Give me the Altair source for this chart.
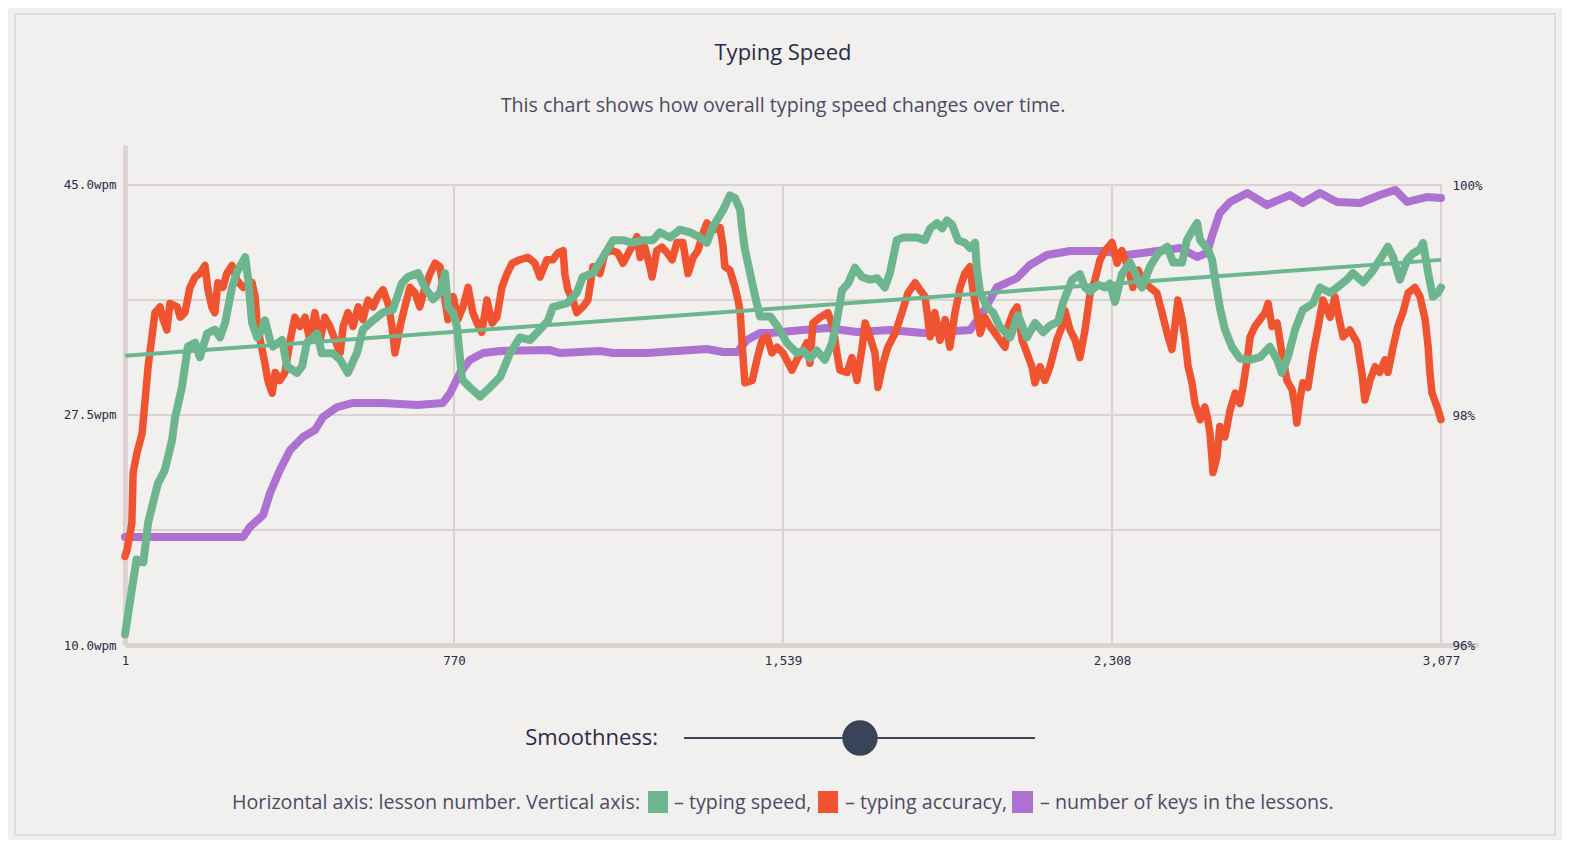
import altair as alt
import pandas as pd

# ---------------- data ----------------
speed_lesson = [1, 13, 28, 44, 55, 78, 94, 111, 118, 134, 148, 165, 176, 193, 211, 223, 235, 251, 263, 282,
                289, 298, 310, 321, 328, 340, 347, 368, 380, 403, 415, 426, 450, 461, 487, 504, 522, 543, 557, 581,
                604, 627, 648, 662, 686, 702, 721, 737, 749, 756, 768, 777, 789, 807, 831, 854, 878, 901, 924, 948,
                971, 990, 1001, 1034, 1057, 1071, 1095, 1118, 1142, 1165, 1188, 1212, 1235, 1251, 1275, 1298, 1322,
                1345, 1361, 1375, 1399, 1415, 1427, 1439, 1443, 1450, 1462, 1474, 1485, 1509, 1527, 1548, 1572,
                1586, 1602, 1618, 1637, 1654, 1665, 1677, 1691, 1707, 1724, 1742, 1759, 1777, 1789, 1805, 1820,
                1852, 1871, 1883, 1899, 1911, 1922, 1934, 1948, 1964, 1976, 1988, 1992, 2000, 2016, 2030, 2046,
                2070, 2088, 2109, 2128, 2147, 2163, 2182, 2194, 2215, 2233, 2245, 2257, 2275, 2292, 2303, 2315,
                2331, 2350, 2366, 2378, 2397, 2416, 2437, 2451, 2472, 2483, 2497, 2507, 2514, 2532, 2542, 2549,
                2560, 2572, 2588, 2607, 2631, 2654, 2677, 2694, 2705, 2719, 2736, 2754, 2778, 2794, 2818, 2834,
                2857, 2871, 2895, 2916, 2930, 2953, 2965, 2981, 2998, 3012, 3028, 3035, 3047, 3058, 3070, 3077]
speed_wpm = [10.8, 13.4, 16.5, 16.3, 19.3, 22.3, 23.3, 25.6, 27.3, 29.6, 32.7, 33.0, 31.9, 33.7, 34.0, 33.4, 34.5,
             37.2, 38.4, 39.5, 37.8, 34.5, 33.4, 34.0, 34.7, 33.2, 32.7, 33.2, 31.2, 30.7, 31.2, 33.0, 33.7, 32.2,
             32.2, 31.7, 30.7, 32.2, 34.0, 34.7, 35.3, 35.5, 37.5, 38.0, 38.3, 37.2, 36.3, 36.8, 38.3, 35.7, 35.3,
             34.2, 30.2, 29.6, 28.9, 29.6, 30.4, 32.2, 33.4, 33.2, 34.0, 34.7, 35.7, 36.0, 36.8, 38.0, 38.3, 39.5,
             40.8, 40.8, 40.6, 40.8, 40.8, 41.4, 41.0, 41.6, 41.4, 41.0, 40.6, 41.8, 43.1, 44.2, 44.0, 43.1, 41.8,
             40.1, 38.3, 36.5, 35.0, 35.0, 34.2, 33.0, 32.2, 32.4, 31.8, 32.4, 31.7, 33.0, 34.7, 37.0, 37.5, 38.7,
             38.0, 37.8, 37.9, 37.2, 38.3, 40.8, 41.0, 41.0, 40.8, 41.7, 42.1, 41.7, 42.3, 42.0, 40.8, 40.6, 40.2,
             40.6, 38.7, 36.8, 35.7, 35.3, 34.2, 33.4, 35.1, 33.4, 34.5, 33.8, 34.3, 34.6, 36.1, 37.8, 38.2, 37.2,
             36.9, 37.4, 37.2, 37.5, 36.1, 38.2, 39.1, 38.0, 37.2, 38.8, 39.8, 40.3, 39.1, 39.1, 40.8, 41.6, 42.1,
             40.8, 40.1, 39.3, 37.8, 35.7, 34.0, 32.7, 31.8, 31.7, 31.9, 32.7, 31.7, 30.7, 31.9, 34.0, 35.5, 36.0,
             37.2, 36.8, 37.2, 37.8, 38.3, 37.6, 38.4, 39.1, 40.3, 39.5, 37.8, 39.3, 39.8, 40.1, 40.6, 38.3, 36.5,
             36.8, 37.2]

trend_lesson = [1, 3077]
trend_wpm = [32.0, 39.3]

accuracy_lesson = [1, 6, 13, 17, 20, 29, 41, 48, 55, 64, 71, 83, 90, 99, 106, 123, 130, 141, 153, 165, 176, 188,
                   195, 204, 211, 218, 230, 239, 251, 263, 277, 298, 305, 310, 317, 328, 335, 345, 352, 363, 375,
                   387, 398, 410, 422, 433, 445, 457, 468, 480, 492, 504, 511, 522, 534, 546, 557, 569, 581, 592,
                   604, 616, 625, 632, 644, 655, 667, 679, 690, 702, 714, 726, 737, 749, 756, 768, 779, 791, 803,
                   814, 824, 835, 847, 859, 870, 882, 894, 906, 924, 943, 959, 971, 987, 1001, 1013, 1025, 1029,
                   1036, 1048, 1057, 1071, 1083, 1095, 1111, 1123, 1139, 1153, 1165, 1181, 1198, 1205, 1216, 1228,
                   1233, 1244, 1256, 1268, 1280, 1291, 1305, 1317, 1329, 1340, 1352, 1361, 1375, 1392, 1399, 1403,
                   1415, 1427, 1434, 1439, 1443, 1446, 1450, 1467, 1478, 1490, 1502, 1513, 1525, 1539, 1560, 1574,
                   1583, 1595, 1602, 1609, 1626, 1644, 1656, 1665, 1672, 1689, 1700, 1712, 1724, 1731, 1742, 1754,
                   1761, 1773, 1784, 1801, 1817, 1831, 1848, 1859, 1871, 1883, 1894, 1906, 1918, 1929, 1941, 1953,
                   1964, 1976, 1983, 1992, 2000, 2011, 2023, 2035, 2046, 2058, 2065, 2077, 2086, 2098, 2109, 2121,
                   2128, 2140, 2151, 2163, 2179, 2191, 2198, 2210, 2222, 2233, 2245, 2257, 2268, 2280, 2292, 2308,
                   2320, 2331, 2345, 2357, 2369, 2380, 2397, 2413, 2425, 2437, 2448, 2455, 2462, 2472, 2479, 2486,
                   2495, 2502, 2514, 2525, 2532, 2537, 2542, 2544, 2553, 2560, 2572, 2584, 2596, 2607, 2614, 2624,
                   2631, 2642, 2654, 2666, 2673, 2682, 2694, 2705, 2717, 2729, 2736, 2740, 2747, 2754, 2766, 2778,
                   2790, 2801, 2818, 2829, 2836, 2848, 2864, 2881, 2892, 2899, 2911, 2923, 2934, 2946, 2953, 2965,
                   2976, 2988, 3000, 3016, 3028, 3040, 3047, 3051, 3056, 3068, 3077]
accuracy_pct = [96.77, 96.83, 96.97, 97.06, 97.50, 97.67, 97.84, 98.13, 98.42, 98.68, 98.89, 98.94, 98.83, 98.74,
                98.97, 98.94, 98.85, 98.89, 99.11, 99.20, 99.23, 99.30, 99.09, 98.94, 98.89, 99.15, 99.11, 99.23,
                99.30, 99.17, 99.11, 99.15, 99.03, 98.80, 98.65, 98.45, 98.30, 98.19, 98.37, 98.30, 98.37, 98.65,
                98.85, 98.77, 98.85, 98.65, 98.89, 98.65, 98.85, 98.77, 98.65, 98.54, 98.77, 98.89, 98.77, 98.94,
                98.83, 99.00, 98.94, 99.03, 99.09, 98.97, 98.77, 98.54, 98.77, 98.94, 99.11, 99.06, 98.94, 99.11,
                99.23, 99.32, 99.29, 99.00, 98.83, 99.03, 98.83, 98.94, 99.11, 98.89, 98.80, 98.72, 99.00, 98.80,
                98.85, 99.11, 99.23, 99.32, 99.35, 99.37, 99.32, 99.20, 99.35, 99.35, 99.41, 99.43, 99.23, 99.09,
                99.00, 98.89, 98.94, 99.00, 99.29, 99.23, 99.41, 99.43, 99.41, 99.32, 99.43, 99.55, 99.37, 99.46,
                99.29, 99.20, 99.43, 99.46, 99.41, 99.35, 99.50, 99.50, 99.23, 99.37, 99.43, 99.58, 99.67, 99.61,
                99.63, 99.46, 99.29, 99.26, 99.11, 99.00, 98.89, 98.65, 98.48, 98.28, 98.30, 98.48, 98.65, 98.68,
                98.54, 98.59, 98.54, 98.39, 98.50, 98.54, 98.63, 98.45, 98.80, 98.85, 98.89, 98.77, 98.54, 98.39,
                98.37, 98.50, 98.30, 98.59, 98.80, 98.68, 98.54, 98.24, 98.45, 98.59, 98.71, 98.89, 99.06, 99.15,
                99.09, 99.03, 98.68, 98.89, 98.65, 98.83, 98.59, 98.89, 99.11, 99.23, 99.29, 99.09, 98.89, 98.71,
                98.85, 98.77, 98.71, 98.65, 98.59, 98.77, 98.89, 98.94, 98.65, 98.54, 98.42, 98.28, 98.42, 98.30,
                98.42, 98.65, 98.77, 98.91, 98.74, 98.65, 98.50, 98.74, 99.06, 99.17, 99.35, 99.43, 99.50, 99.32,
                99.43, 99.29, 99.11, 99.26, 99.17, 99.11, 99.06, 98.89, 98.71, 98.57, 98.77, 99.00, 98.83, 98.65,
                98.42, 98.28, 98.10, 97.96, 98.07, 97.96, 97.84, 97.61, 97.50, 97.63, 97.90, 97.81, 98.04, 98.19,
                98.10, 98.24, 98.48, 98.68, 98.77, 98.83, 98.89, 98.97, 98.77, 98.80, 98.54, 98.30, 98.22, 98.07,
                97.93, 98.13, 98.28, 98.24, 98.54, 98.77, 99.00, 98.85, 99.03, 98.89, 98.68, 98.74, 98.63, 98.37,
                98.13, 98.30, 98.42, 98.37, 98.48, 98.37, 98.59, 98.77, 98.89, 99.06, 99.11, 99.03, 98.83, 98.59,
                98.37, 98.19, 98.07, 97.96]

keys_lesson = [1, 277, 293, 324, 340, 363, 387, 417, 445, 464, 497, 534, 604, 684, 744, 761, 784, 807, 838, 878,
               994, 1018, 1111, 1142, 1221, 1361, 1399, 1432, 1455, 1485, 1509, 1586, 1642, 1712, 1789, 1866, 1976,
               2006, 2039, 2086, 2116, 2156, 2210, 2287, 2343, 2397, 2467, 2507, 2530, 2544, 2560, 2584, 2624, 2670,
               2724, 2754, 2794, 2834, 2888, 2934, 2970, 2998, 3044, 3077]
keys_count = [6.10, 6.10, 6.67, 7.35, 8.59, 9.89, 11.02, 11.76, 12.15, 12.89, 13.45, 13.68, 13.68, 13.57, 13.68,
              14.24, 15.37, 16.11, 16.50, 16.62, 16.67, 16.50, 16.62, 16.50, 16.50, 16.73, 16.56, 16.56, 17.24,
              17.63, 17.63, 17.80, 17.92, 17.69, 17.80, 17.63, 17.80, 18.77, 20.23, 20.74, 21.48, 22.04, 22.27,
              22.27, 22.04, 22.21, 22.44, 21.93, 22.16, 23.29, 24.42, 25.04, 25.55, 24.87, 25.43, 24.98, 25.55,
              25.04, 24.98, 25.43, 25.72, 25.04, 25.32, 25.27]

x_ticks = [1, 770, 1539, 2308, 3077]
wpm_ticks = [10, 27.5, 45]
wpm_grid = [18.75, 27.5, 36.25, 45]
acc_ticks = [96, 98, 100]

title_text = "Typing Speed"
subtitle_text = "This chart shows how overall typing speed changes over time."
slider_label = "Smoothness:"
legend_intro = "Horizontal axis: lesson number. Vertical axis:"
legend_speed = "– typing speed,"
legend_accuracy = "– typing accuracy,"
legend_keys = "– number of keys in the lessons."

# ---------------- styles ----------------
GREEN = "#6db58e"
RED = "#f05330"
PURPLE = "#ad72d1"
GRID = "#ddd2d2"
DOMAIN = "#ded3d3"
LABEL = "#2a2b45"
TEXT = "#4b4b66"
DARK = "#2b2c45"
SLIDER = "#3a4459"
BG = "#f2f0ef"
MONO = "DejaVu Sans Mono"
SANS = "Open Sans"

W, H = 1353, 500

xscale = alt.Scale(domain=[1, 3163.5], nice=False, zero=False)
wpm_scale = alt.Scale(domain=[10, 48.04], nice=False, zero=False)
acc_scale = alt.Scale(domain=[96, 100.348], nice=False, zero=False)
keys_scale = alt.Scale(domain=[0, 28.26], nice=False, zero=False)

xaxis = alt.Axis(values=x_ticks, format=",d", title=None, grid=False, ticks=False, tickSize=0,
                 domain=True, domainColor=DOMAIN, domainWidth=5, labelFont=MONO, labelFontSize=12.5,
                 labelColor=LABEL, labelPadding=9, labelFlush=False, labelOverlap=False)
left_axis = alt.Axis(values=wpm_ticks, labelExpr="format(datum.value, '.1f') + 'wpm'", title=None, grid=False,
                     ticks=False, tickSize=0, domain=True, domainColor=DOMAIN, domainWidth=5, labelFont=MONO,
                     labelFontSize=12.5, labelColor=LABEL, labelPadding=9, labelOverlap=False, labelFlush=False)
right_axis = alt.Axis(orient="right", values=acc_ticks, labelExpr="datum.value + '%'", title=None, grid=False,
                      ticks=False, tickSize=0, domain=False, offset=-37, labelFont=MONO, labelFontSize=12.5,
                      labelColor=LABEL, labelPadding=11, labelOverlap=False, labelFlush=False)


def X(field):
    return alt.X(field, scale=xscale, axis=xaxis)


speed_df = pd.DataFrame({"lesson": speed_lesson, "wpm": speed_wpm})
trend_df = pd.DataFrame({"lesson": trend_lesson, "wpm": trend_wpm})
acc_df = pd.DataFrame({"lesson": accuracy_lesson, "acc": accuracy_pct})
keys_df = pd.DataFrame({"lesson": keys_lesson, "keys": keys_count})

vgrid_df = pd.DataFrame({"lesson": x_ticks[1:], "lo": [wpm_ticks[0]] * 4, "hi": [wpm_ticks[-1]] * 4})
hgrid_df = pd.DataFrame({"wpm": wpm_grid, "lesson": [x_ticks[0]] * 4, "x1": [x_ticks[-1]] * 4})

vgrid = alt.Chart(vgrid_df).mark_rule(color=GRID, strokeWidth=2).encode(
    x=X("lesson:Q"),
    y=alt.Y("lo:Q", scale=wpm_scale, axis=None),
    y2="hi:Q",
)
hgrid = alt.Chart(hgrid_df).mark_rule(color=GRID, strokeWidth=2).encode(
    y=alt.Y("wpm:Q", scale=wpm_scale, axis=None),
    x=X("lesson:Q"),
    x2="x1:Q",
)

keys_line = alt.Chart(keys_df).mark_line(color=PURPLE, strokeWidth=8, strokeCap="round", strokeJoin="round").encode(
    x=X("lesson:Q"),
    y=alt.Y("keys:Q", scale=keys_scale, axis=None),
)
acc_line = alt.Chart(acc_df).mark_line(color=RED, strokeWidth=7.5, strokeCap="round", strokeJoin="round").encode(
    x=X("lesson:Q"),
    y=alt.Y("acc:Q", scale=acc_scale, axis=right_axis),
)
trend_line = alt.Chart(trend_df).mark_line(color=GREEN, strokeWidth=4).encode(
    x=X("lesson:Q"),
    y=alt.Y("wpm:Q", scale=wpm_scale, axis=None),
)
speed_line = alt.Chart(speed_df).mark_line(color=GREEN, strokeWidth=8, strokeCap="round", strokeJoin="round").encode(
    x=X("lesson:Q"),
    y=alt.Y("wpm:Q", scale=wpm_scale, axis=left_axis),
)


def label(text, x, y, size, color, align="left"):
    return alt.Chart(pd.DataFrame({"t": [text]})).mark_text(
        font=SANS, fontSize=size, color=color, align=align, baseline="middle"
    ).encode(x=alt.value(x), y=alt.value(y), text="t:N")


def box(x, x2, y, y2, color):
    return alt.Chart(pd.DataFrame({"k": [0]})).mark_rect(color=color).encode(
        x=alt.value(x), x2=alt.value(x2), y=alt.value(y), y2=alt.value(y2))


frame = alt.Chart(pd.DataFrame({"k": [0]})).mark_rect(fillOpacity=0, stroke="#e3dada", strokeWidth=2).encode(
    x=alt.value(-110), x2=alt.value(1430), y=alt.value(-131), y2=alt.value(690))

title = label(title_text, 658, -92, 22, DARK, align="center")
subtitle = label(subtitle_text, 658, -39, 19.7, TEXT, align="center")
smooth = label(slider_label, 533, 593, 22, DARK, align="right")
slider = alt.Chart(pd.DataFrame({"k": [0]})).mark_rule(color=SLIDER, strokeWidth=2).encode(
    x=alt.value(559), x2=alt.value(910), y=alt.value(593))
knob = alt.Chart(pd.DataFrame({"k": [0]})).mark_circle(color=SLIDER, size=1257, opacity=1).encode(
    x=alt.value(735), y=alt.value(593))

legend_parts = [
    label(legend_intro, 107, 658, 19.7, TEXT),
    box(523, 543, 646, 668, GREEN),
    label(legend_speed, 549, 658, 19.7, TEXT),
    box(693, 713, 646, 668, RED),
    label(legend_accuracy, 720, 658, 19.7, TEXT),
    box(887, 908, 646, 668, PURPLE),
    label(legend_keys, 915, 658, 19.7, TEXT),
]

chart = alt.layer(
    frame, vgrid, hgrid, keys_line, acc_line, trend_line, speed_line,
    title, subtitle, smooth, slider, knob, *legend_parts,
).resolve_scale(y="independent").properties(
    width=W, height=H,
    autosize=alt.AutoSizeParams(type="none"),
    padding={"left": 117, "top": 137, "right": 84, "bottom": 195},
).configure(background=BG).configure_view(stroke=None)

chart.save("out.html", embed_options={"renderer": "svg", "actions": False})
